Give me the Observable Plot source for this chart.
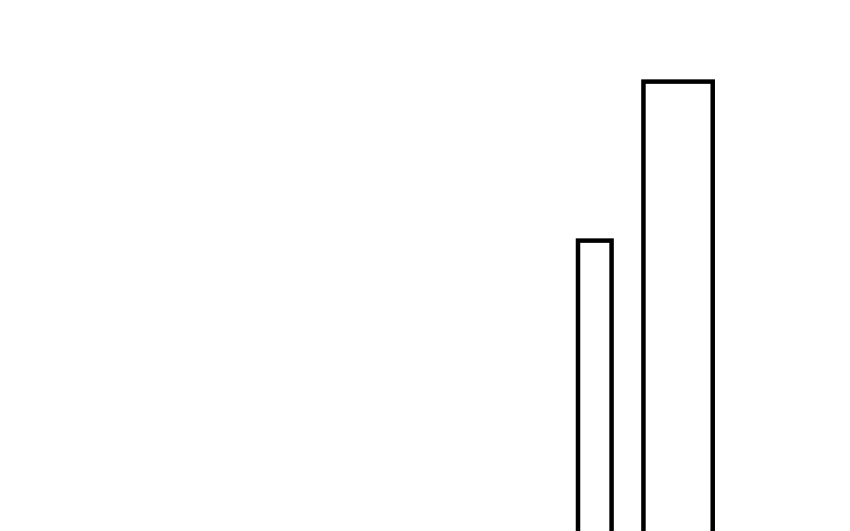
<!DOCTYPE html>
<html>
<head>
<meta charset="utf-8">
<script src="https://cdn.jsdelivr.net/npm/d3@7"></script>
<script src="https://cdn.jsdelivr.net/npm/@observablehq/plot@0.6"></script>
<style>
  html, body { margin: 0; padding: 0; background: #fff; overflow: hidden; }
</style>
</head>
<body>
<div id="chart"></div>
<script>
const binStart = [68, 75.7];
const binEnd = [71.95, 83.85];
const values = [59.9, 86.4];

const data = values.map((v, i) => ({x1: binStart[i], x2: binEnd[i], y: v}));

const chart = Plot.plot({
  width: 850,
  height: 600,
  marginTop: 0,
  marginBottom: 0,
  marginLeft: 0,
  marginRight: 0,
  x: {domain: [0, 100], axis: null},
  y: {domain: [0, 100], axis: null},
  marks: [
    Plot.rectY(data, {x1: "x1", x2: "x2", y: "y", fill: "none", stroke: "black", strokeWidth: 4.5})
  ]
});
document.getElementById("chart").appendChild(chart);
</script>
</body>
</html>
